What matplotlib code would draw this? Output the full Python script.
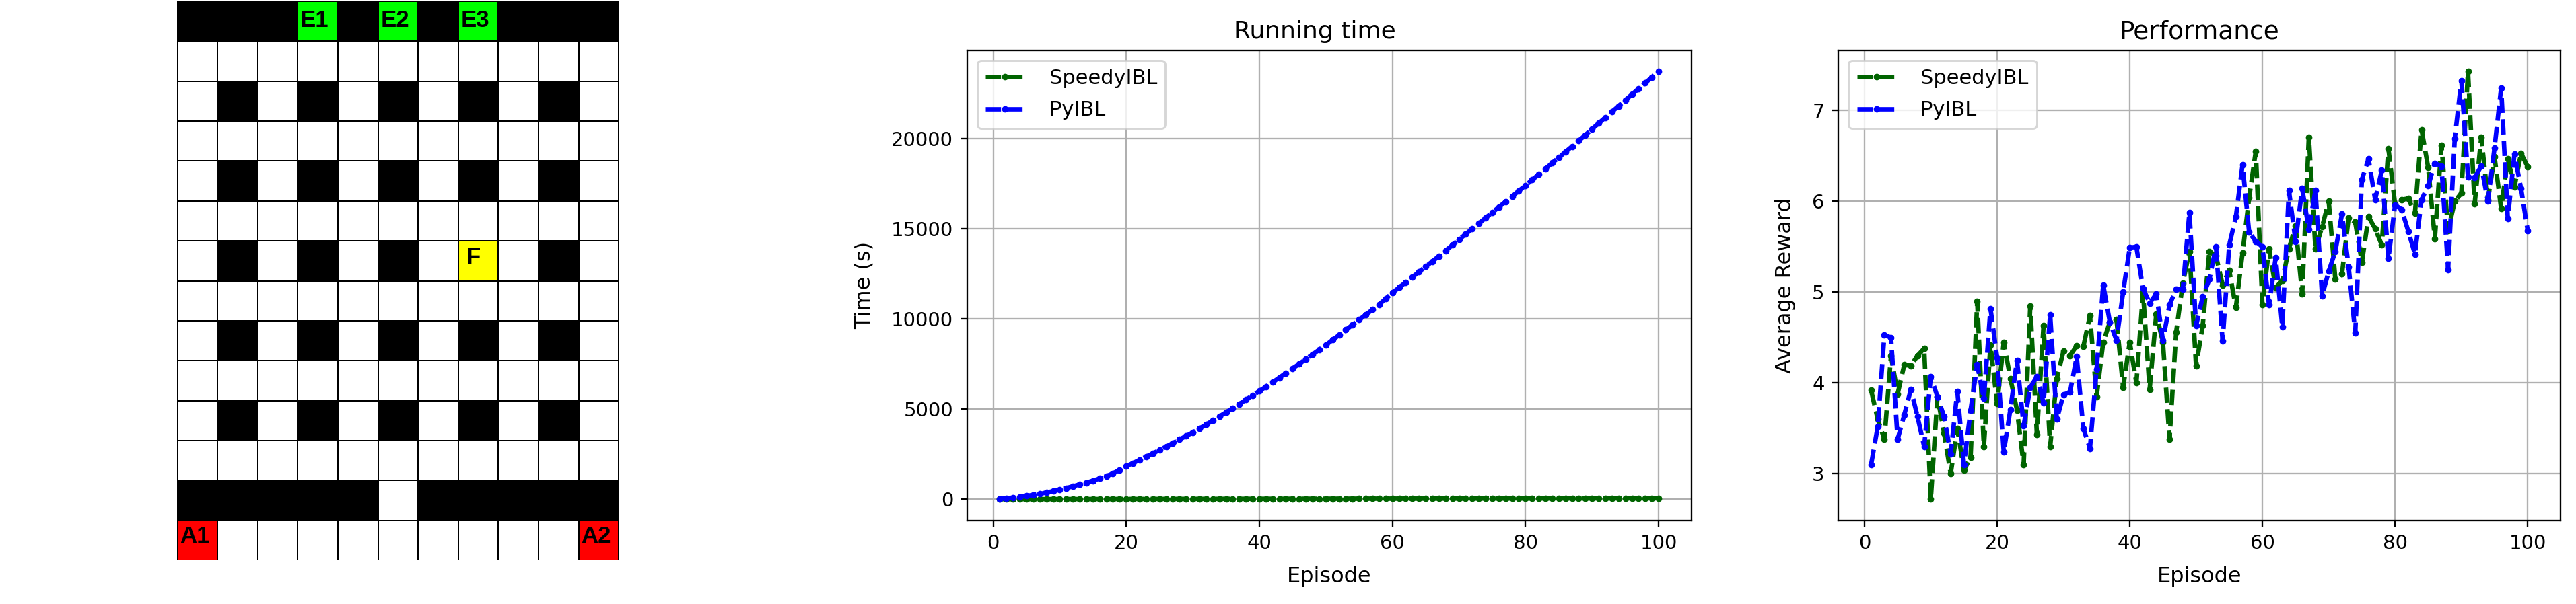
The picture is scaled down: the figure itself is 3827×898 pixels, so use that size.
import matplotlib
matplotlib.use("Agg")
import matplotlib.pyplot as plt
import numpy as np
from matplotlib.colors import ListedColormap

# 0 white, 1 black, 2 green, 3 yellow, 4 red
grid_rows = [
    [1, 1, 1, 2, 1, 2, 1, 2, 1, 1, 1],
    [0, 0, 0, 0, 0, 0, 0, 0, 0, 0, 0],
    [0, 1, 0, 1, 0, 1, 0, 1, 0, 1, 0],
    [0, 0, 0, 0, 0, 0, 0, 0, 0, 0, 0],
    [0, 1, 0, 1, 0, 1, 0, 1, 0, 1, 0],
    [0, 0, 0, 0, 0, 0, 0, 0, 0, 0, 0],
    [0, 1, 0, 1, 0, 1, 0, 3, 0, 1, 0],
    [0, 0, 0, 0, 0, 0, 0, 0, 0, 0, 0],
    [0, 1, 0, 1, 0, 1, 0, 1, 0, 1, 0],
    [0, 0, 0, 0, 0, 0, 0, 0, 0, 0, 0],
    [0, 1, 0, 1, 0, 1, 0, 1, 0, 1, 0],
    [0, 0, 0, 0, 0, 0, 0, 0, 0, 0, 0],
    [1, 1, 1, 1, 1, 0, 1, 1, 1, 1, 1],
    [4, 0, 0, 0, 0, 0, 0, 0, 0, 0, 4],
]
grid_colors = ["#ffffff", "#000000", "#00ff00", "#ffff00", "#ff0000"]
grid_labels = [("E1", 0, 3), ("E2", 0, 5), ("E3", 0, 7), ("F", 6, 7), ("A1", 13, 0), ("A2", 13, 10)]
label_offsets = {"E": (0.06, 0.2), "F": (0.2, 0.13), "A": (0.06, 0.12)}

episodes = list(range(1, 101))

time_speedy = [1, 1, 2, 2, 3, 3, 4, 4, 5, 5, 6, 6, 7, 7, 8, 8, 9, 9, 10, 10,
               11, 11, 12, 12, 13, 13, 14, 14, 15, 15, 16, 16, 17, 17, 18, 18, 19, 19, 20, 20,
               21, 21, 22, 22, 23, 23, 24, 24, 25, 25, 26, 26, 27, 27, 28, 28, 29, 29, 30, 30,
               31, 31, 32, 32, 33, 33, 34, 34, 35, 35, 36, 36, 37, 37, 38, 38, 39, 39, 40, 40,
               41, 41, 42, 42, 43, 43, 44, 44, 45, 45, 46, 46, 47, 47, 48, 48, 49, 49, 50, 50]
time_pyibl = [20, 50, 90, 130, 180, 240, 300, 370, 450, 530,
              620, 720, 820, 920, 1030, 1150, 1280, 1430, 1630, 1830,
              2000, 2180, 2360, 2540, 2730, 2920, 3110, 3310, 3510, 3700,
              3920, 4140, 4360, 4590, 4820, 5050, 5280, 5520, 5760, 6000,
              6240, 6490, 6740, 7000, 7250, 7510, 7770, 8030, 8290, 8550,
              8830, 9110, 9390, 9670, 9950, 10230, 10510, 10800, 11120, 11450,
              11740, 12030, 12320, 12610, 12900, 13190, 13490, 13790, 14090, 14400,
              14700, 15000, 15300, 15600, 15900, 16200, 16500, 16800, 17100, 17400,
              17710, 18020, 18330, 18640, 18950, 19260, 19570, 19880, 20200, 20530,
              20850, 21170, 21490, 21810, 22130, 22450, 22770, 23090, 23400, 23720]

reward_speedy = [3.92, 3.6, 3.38, 4.3, 3.88, 4.2, 4.19, 4.3, 4.38, 2.72,
                 3.85, 3.45, 3.0, 3.5, 3.04, 3.18, 4.9, 3.3, 4.42, 3.77,
                 4.45, 4.05, 3.7, 3.1, 4.85, 3.43, 4.63, 3.3, 4.05, 4.35,
                 4.3, 4.41, 4.4, 4.74, 3.85, 4.45, 4.67, 4.7, 3.95, 4.45,
                 4.0, 5.0, 3.93, 4.76, 4.45, 3.38, 4.56, 5.1, 5.45, 4.19,
                 4.63, 5.45, 5.4, 5.08, 5.24, 4.83, 5.43, 6.04, 6.55, 4.86,
                 5.48, 5.05, 5.13, 5.48, 5.73, 4.98, 6.71, 5.48, 5.72, 6.0,
                 5.14, 5.2, 5.82, 5.77, 5.33, 5.83, 5.7, 5.52, 6.58, 5.97,
                 6.02, 6.03, 5.87, 6.79, 6.37, 5.59, 6.62, 5.68, 6.0, 6.09,
                 7.43, 5.97, 6.71, 6.02, 6.49, 5.92, 6.47, 6.16, 6.53, 6.38]
reward_pyibl = [3.1, 3.52, 4.53, 4.5, 3.38, 3.65, 3.93, 3.63, 3.3, 4.07,
                3.85, 3.63, 3.22, 3.91, 3.1, 3.7, 4.2, 3.83, 4.82, 4.28,
                3.24, 3.71, 4.25, 3.53, 3.95, 4.07, 3.78, 4.75, 3.6, 3.87,
                3.9, 4.29, 3.5, 3.28, 4.15, 5.08, 4.67, 4.47, 5.0, 5.49,
                5.5, 5.04, 4.88, 4.98, 4.47, 4.86, 5.03, 5.03, 5.88, 4.63,
                4.95, 5.14, 5.5, 4.46, 5.52, 5.83, 6.4, 5.66, 5.56, 5.5,
                4.86, 5.38, 4.62, 6.12, 5.56, 6.14, 5.69, 6.12, 4.96, 5.23,
                5.45, 5.86, 5.28, 4.55, 6.24, 6.47, 6.02, 6.34, 5.37, 5.96,
                5.91, 5.67, 5.42, 6.02, 6.17, 6.42, 6.39, 5.25, 6.69, 7.33,
                6.27, 6.26, 6.39, 6.0, 6.59, 7.25, 5.81, 6.52, 6.14, 5.68]

W, H = 3827, 898
s = 2.09  # reference looks like a 72 dpi figure blown up

plt.rcParams.update({
    "font.size": 21,
    "axes.titlepad": 6 * s,
    "axes.labelsize": 23,
    "axes.labelpad": 4 * s,
    "axes.linewidth": 0.8 * s,
    "xtick.major.size": 3.5 * s,
    "ytick.major.size": 3.5 * s,
    "xtick.major.width": 0.8 * s,
    "ytick.major.width": 0.8 * s,
    "xtick.major.pad": 3.5 * s,
    "ytick.major.pad": 3.5 * s,
    "grid.linewidth": 0.8 * s,
    "legend.fontsize": 22,
    "patch.linewidth": 1.0 * s,
})


def pixel_axes(fig, left, right, top, bottom):
    return fig.add_axes([left / W, 1 - bottom / H, (right - left) / W, (bottom - top) / H])


def plot_series(ax, x, speedy, pyibl):
    ax.plot(x, speedy, marker=".", color="darkgreen", lw=4.8, ms=12, dashes=(3.4, 1.4), label="SpeedyIBL")
    ax.plot(x, pyibl, marker=".", color="blue", lw=4.8, ms=12, dashes=(3.4, 1.4), label="PyIBL")
    ax.grid(True)
    ax.set_xlabel("Episode", labelpad=4 * s + 6)
    ax.legend(loc="upper left", handlelength=1.9, handletextpad=1.2, labelspacing=0.6)


fig = plt.figure(figsize=(W / 100, H / 100), dpi=100)

ax0 = pixel_axes(fig, 263.4, 919.4, 2, 833)
cells = np.array(grid_rows)
ax0.pcolormesh(cells, cmap=ListedColormap(grid_colors), vmin=0, vmax=4, edgecolors="#000000", linewidth=1.3)
ax0.set_ylim(len(grid_rows), 0)
ax0.axis("off")
for label, row, col in grid_labels:
    dx, dy = label_offsets[label[0]]
    ax0.text(col + dx, row + dy, label, fontsize=25, fontweight="bold", family="Liberation Sans",
             ha="left", va="top", color="black")

ax1 = pixel_axes(fig, 1436.5, 2513, 74.5, 774)
plot_series(ax1, episodes, time_speedy, time_pyibl)
ax1.set_title("Running time", fontsize=26, x=0.48)
ax1.set_ylabel("Time (s)", labelpad=4 * s + 9)

ax2 = pixel_axes(fig, 2731, 3804, 74.5, 774)
plot_series(ax2, episodes, reward_speedy, reward_pyibl)
ax2.set_title("Performance", fontsize=27)
ax2.set_ylabel("Average Reward", labelpad=4 * s + 9)

fig.savefig("out.png", dpi=100)
